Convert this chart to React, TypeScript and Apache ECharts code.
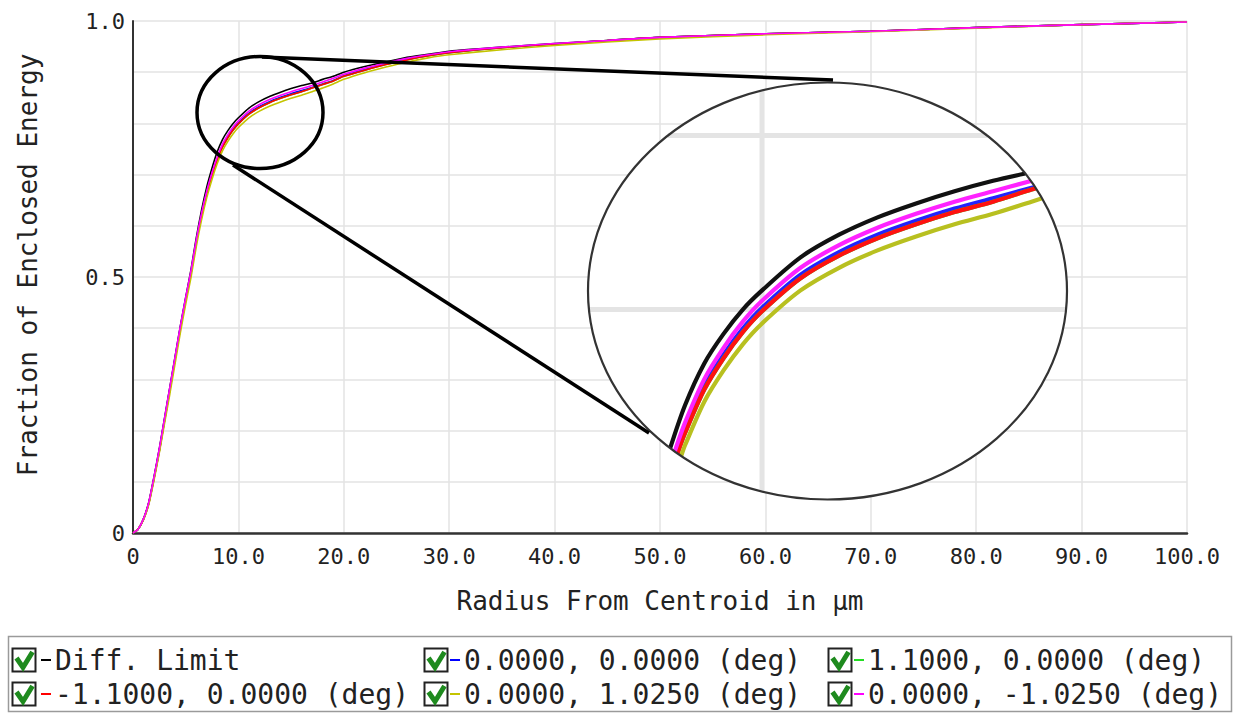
import React, { useEffect, useRef } from "react";
import * as echarts from "echarts";

// ---------------- data ----------------
const RADIUS = [0, 0.5, 1, 1.5, 2, 2.5, 3, 3.5, 4, 4.5, 5, 5.5, 6, 6.5, 7, 7.5, 8, 8.5, 9, 9.5, 10,
  11, 12, 13, 14, 15, 16, 17, 18, 19, 20, 22, 24, 26, 28, 30, 35, 40, 45, 50, 60, 70, 80, 90, 100];

const DIFF_LIMIT = [0, 0.008, 0.028, 0.060, 0.110, 0.165, 0.225, 0.285, 0.345, 0.405, 0.460, 0.514, 0.576, 0.630, 0.676, 0.713, 0.745, 0.769, 0.786, 0.800, 0.811,
  0.830, 0.843, 0.853, 0.861, 0.868, 0.874, 0.879, 0.886, 0.892, 0.900, 0.911, 0.920, 0.929, 0.935, 0.941, 0.949, 0.956, 0.962, 0.968, 0.975, 0.980, 0.987, 0.993, 0.998];
const FIELD_0_0 = [0, 0.008, 0.027, 0.059, 0.108, 0.162, 0.222, 0.282, 0.342, 0.402, 0.457, 0.509, 0.569, 0.621, 0.665, 0.701, 0.731, 0.756, 0.774, 0.789, 0.801,
  0.820, 0.833, 0.843, 0.851, 0.858, 0.864, 0.870, 0.877, 0.884, 0.893, 0.905, 0.916, 0.925, 0.932, 0.938, 0.948, 0.955, 0.962, 0.968, 0.975, 0.980, 0.987, 0.993, 0.998];
const FIELD_P110_0 = [0, 0.008, 0.027, 0.058, 0.107, 0.160, 0.220, 0.280, 0.340, 0.400, 0.455, 0.507, 0.567, 0.619, 0.663, 0.699, 0.729, 0.754, 0.772, 0.787, 0.799,
  0.818, 0.831, 0.841, 0.849, 0.856, 0.862, 0.869, 0.876, 0.883, 0.892, 0.904, 0.915, 0.924, 0.932, 0.938, 0.948, 0.955, 0.962, 0.968, 0.975, 0.980, 0.987, 0.993, 0.998];
const FIELD_M110_0 = [0, 0.008, 0.027, 0.058, 0.107, 0.160, 0.220, 0.280, 0.340, 0.400, 0.455, 0.507, 0.567, 0.619, 0.663, 0.699, 0.729, 0.754, 0.772, 0.787, 0.799,
  0.818, 0.831, 0.841, 0.849, 0.856, 0.862, 0.869, 0.876, 0.883, 0.892, 0.904, 0.915, 0.924, 0.932, 0.938, 0.948, 0.955, 0.962, 0.968, 0.975, 0.980, 0.987, 0.993, 0.998];
const FIELD_0_P1025 = [0, 0.008, 0.026, 0.056, 0.104, 0.157, 0.215, 0.272, 0.332, 0.392, 0.447, 0.499, 0.559, 0.611, 0.655, 0.691, 0.722, 0.747, 0.765, 0.780, 0.792,
  0.811, 0.824, 0.834, 0.842, 0.849, 0.855, 0.862, 0.869, 0.877, 0.886, 0.899, 0.910, 0.920, 0.928, 0.934, 0.944, 0.952, 0.959, 0.965, 0.973, 0.979, 0.986, 0.993, 0.998];
const FIELD_0_M1025 = [0, 0.008, 0.028, 0.060, 0.110, 0.165, 0.225, 0.285, 0.345, 0.405, 0.460, 0.512, 0.572, 0.624, 0.668, 0.704, 0.735, 0.760, 0.778, 0.793, 0.805,
  0.824, 0.837, 0.847, 0.855, 0.862, 0.868, 0.874, 0.881, 0.888, 0.896, 0.908, 0.918, 0.927, 0.934, 0.940, 0.949, 0.956, 0.962, 0.968, 0.975, 0.980, 0.987, 0.993, 0.998];

const SERIES_NAMES = [
  "Diff. Limit",
  "0.0000, 0.0000 (deg)",
  "1.1000, 0.0000 (deg)",
  "-1.1000, 0.0000 (deg)",
  "0.0000, 1.0250 (deg)",
  "0.0000, -1.0250 (deg)",
];
const SERIES_VALUES = [DIFF_LIMIT, FIELD_0_0, FIELD_P110_0, FIELD_M110_0, FIELD_0_P1025, FIELD_0_M1025];

const X_TICK_LABELS = ["0", "10.0", "20.0", "30.0", "40.0", "50.0", "60.0", "70.0", "80.0", "90.0", "100.0"];
const Y_TICK_VALUES = [0, 0.5, 1];
const Y_TICK_LABELS = ["0", "0.5", "1.0"];

const X_TITLE = "Radius From Centroid in µm";
const Y_TITLE = "Fraction of Enclosed Energy";

// magnified view: data window shown inside the big ellipse
const INSET_X_RANGE = [5.48, 17.92];
const INSET_Y_RANGE = [0.6908, 0.9305];
const INSET_GRID_X = [10];
const INSET_GRID_Y = [0.8, 0.9];

// ---------------- styles / layout ----------------
const COLORS = ["#000000", "#0000ff", "#22dd22", "#ff0000", "#c4c400", "#ff00ff"];
const INSET_COLORS = ["#111111", "#2222ff", "#22dd22", "#ff1111", "#b8c020", "#ff22ff"];
const MONO = '"DejaVu Sans Mono", monospace';
const BIG = { cx: 827.5, cy: 291, rx: 239.5, ry: 208.5 };
const SMALL = { cx: 260, cy: 112.5, rx: 63, ry: 56 };

function inEll(p: number[]) {
  const dx = (p[0] - BIG.cx) / BIG.rx;
  const dy = (p[1] - BIG.cy) / BIG.ry;
  return dx * dx + dy * dy <= 1;
}
function edgePoint(a: number[], b: number[]) {
  // a inside, b outside
  let lo = 0, hi = 1;
  for (let k = 0; k < 30; k++) {
    const m = (lo + hi) / 2;
    const p = [a[0] + (b[0] - a[0]) * m, a[1] + (b[1] - a[1]) * m];
    if (inEll(p)) lo = m; else hi = m;
  }
  return [a[0] + (b[0] - a[0]) * lo, a[1] + (b[1] - a[1]) * lo];
}
function clipToEllipse(pts: number[][]) {
  const segs: number[][][] = [];
  let cur: number[][] = [];
  for (let i = 0; i < pts.length; i++) {
    const p = pts[i];
    const pin = inEll(p);
    if (i > 0) {
      const q = pts[i - 1];
      const qin = inEll(q);
      if (qin && !pin) {
        cur.push(edgePoint(q, p));
        if (cur.length > 1) segs.push(cur);
        cur = [];
      } else if (!qin && pin) {
        cur = [edgePoint(p, q)];
      }
    }
    if (pin) cur.push(p);
  }
  if (cur.length > 1) segs.push(cur);
  return segs;
}

function curveRenderer(values: number[], color: string) {
  return (params: any, api: any) => {
    const pts = RADIUS.map((x, i) => api.coord([x, values[i]]));
    const segs = clipToEllipse(pts);
    return {
      type: "group",
      children: segs.map((seg) => ({
        type: "polyline",
        shape: { points: seg, smooth: 0.3 },
        style: { stroke: color, lineWidth: 4.2, fill: null, lineJoin: "round" },
      })),
    };
  };
}

function gridRenderer(params: any, api: any) {
  const children: any[] = [];
  INSET_GRID_X.forEach((gx) => {
    const px = api.coord([gx, INSET_Y_RANGE[0]])[0];
    const t = (px - BIG.cx) / BIG.rx;
    if (Math.abs(t) < 1) {
      const h = BIG.ry * Math.sqrt(1 - t * t);
      children.push({ type: "line", shape: { x1: px, y1: BIG.cy - h, x2: px, y2: BIG.cy + h }, style: { stroke: "#e4e4e4", lineWidth: 5 } });
    }
  });
  INSET_GRID_Y.forEach((gy) => {
    const py = api.coord([INSET_X_RANGE[0], gy])[1];
    const t = (py - BIG.cy) / BIG.ry;
    if (Math.abs(t) < 1) {
      const w = BIG.rx * Math.sqrt(1 - t * t);
      children.push({ type: "line", shape: { x1: BIG.cx - w, y1: py, x2: BIG.cx + w, y2: py }, style: { stroke: "#e4e4e4", lineWidth: 5 } });
    }
  });
  return { type: "group", children };
}

function legendGraphics() {
  const els: any[] = [];
  els.push({
    type: "rect", z: 20,
    shape: { x: 8.5, y: 636.5, width: 1223, height: 75 },
    style: { fill: "#fff", stroke: "#9a9a9a", lineWidth: 1.5 },
  });
  const colX = [12, 424, 828];
  const textX = [55, 464, 868];
  const rowY = [660, 694];
  SERIES_NAMES.forEach((name, i) => {
    const col = i % 3;
    const x0 = colX[col];
    const tx = textX[col];
    const yc = rowY[Math.floor(i / 3)];
    els.push({
      type: "rect", z: 21,
      shape: { x: x0 + 0.5, y: yc - 11.5, width: 23, height: 23 },
      style: { fill: "#fff", stroke: "#222", lineWidth: 2 },
    });
    els.push({
      type: "polyline", z: 22,
      shape: { points: [[x0 + 4.5, yc - 2], [x0 + 11, yc + 7.5], [x0 + 20.5, yc - 8]] },
      style: { stroke: "#1e8a1e", lineWidth: 5, fill: null, lineJoin: "miter" },
    });
    els.push({
      type: "line", z: 22,
      shape: { x1: tx - 14, y1: yc, x2: tx - 4, y2: yc },
      style: { stroke: COLORS[i], lineWidth: 2 },
    });
    els.push({
      type: "text", z: 22, x: tx, y: yc,
      style: {
        text: name, font: `28px ${MONO}`, fill: "#222",
        align: "left", verticalAlign: "middle", textAlign: "left", textVerticalAlign: "middle",
      },
    });
  });
  return els;
}

export default function App() {
  const ref = useRef<HTMLDivElement>(null);
  useEffect(() => {
    if (!ref.current) return;
    const chart = echarts.init(ref.current, undefined, { renderer: "svg" });

    const mainSeries = SERIES_VALUES.map((vals, i) => ({
      type: "line",
      name: SERIES_NAMES[i],
      xAxisIndex: 0,
      yAxisIndex: 0,
      data: RADIUS.map((x, j) => [x, vals[j]]),
      showSymbol: false,
      smooth: 0.2,
      lineStyle: { color: COLORS[i], width: 1.6 },
      itemStyle: { color: COLORS[i] },
      z: 2,
      silent: true,
    }));

    const insetSeries = SERIES_VALUES.map((vals, i) => ({
      type: "custom",
      name: "inset " + SERIES_NAMES[i],
      xAxisIndex: 1,
      yAxisIndex: 1,
      data: [[10, 0.8]],
      renderItem: curveRenderer(vals, INSET_COLORS[i]),
      z: 7,
      clip: false,
      silent: true,
    }));

    const option: any = {
      animation: false,
      backgroundColor: "#ffffff",
      grid: [
        { left: 133, top: 21, width: 1054, height: 512, containLabel: false },
        { left: BIG.cx - BIG.rx, top: BIG.cy - BIG.ry, width: BIG.rx * 2, height: BIG.ry * 2, containLabel: false },
      ],
      xAxis: [
        {
          type: "value", gridIndex: 0, min: 0, max: 100, interval: 10,
          axisLine: { show: true, lineStyle: { color: "#333", width: 2.5 } },
          axisTick: { show: false },
          splitLine: { show: true, lineStyle: { color: "#e3e3e3", width: 1.5 } },
          axisLabel: {
            margin: 12, fontSize: 22, fontFamily: MONO, color: "#222",
            formatter: (v: number) => X_TICK_LABELS[Math.round(v / 10)] ?? "",
          },
        },
        { type: "value", gridIndex: 1, min: INSET_X_RANGE[0], max: INSET_X_RANGE[1], show: false },
      ],
      yAxis: [
        {
          type: "value", gridIndex: 0, min: 0, max: 1, interval: 0.1,
          axisLine: { show: true, lineStyle: { color: "#333", width: 2 } },
          axisTick: { show: false },
          splitLine: { show: true, lineStyle: { color: "#e3e3e3", width: 1.5 } },
          axisLabel: {
            margin: 8, fontSize: 22, fontFamily: MONO, color: "#222",
            formatter: (v: number) => {
              const k = Y_TICK_VALUES.findIndex((t) => Math.abs(t - v) < 1e-6);
              return k >= 0 ? Y_TICK_LABELS[k] : "";
            },
          },
        },
        { type: "value", gridIndex: 1, min: INSET_Y_RANGE[0], max: INSET_Y_RANGE[1], show: false },
      ],
      series: [
        ...mainSeries,
        {
          type: "custom", name: "inset grid", xAxisIndex: 1, yAxisIndex: 1,
          data: [[10, 0.8]], renderItem: gridRenderer, z: 6, clip: false, silent: true,
        },
        ...insetSeries,
      ],
      graphic: [
        {
          type: "text", z: 10, x: 660, y: 601,
          style: {
            text: X_TITLE, font: `26px ${MONO}`, fill: "#222",
            align: "center", verticalAlign: "middle", textAlign: "center", textVerticalAlign: "middle",
          },
        },
        {
          type: "text", z: 10, x: 28, y: 265, rotation: Math.PI / 2,
          style: {
            text: Y_TITLE, font: `26px ${MONO}`, fill: "#222",
            align: "center", verticalAlign: "middle", textAlign: "center", textVerticalAlign: "middle",
          },
        },
        {
          type: "ellipse", z: 5,
          shape: { cx: BIG.cx, cy: BIG.cy, rx: BIG.rx, ry: BIG.ry },
          style: { fill: "#ffffff", stroke: null },
        },
        {
          type: "ellipse", z: 9,
          shape: { cx: BIG.cx, cy: BIG.cy, rx: BIG.rx, ry: BIG.ry },
          style: { fill: null, stroke: "#333333", lineWidth: 2.2 },
        },
        {
          type: "ellipse", z: 9,
          shape: { cx: SMALL.cx, cy: SMALL.cy, rx: SMALL.rx, ry: SMALL.ry },
          style: { fill: null, stroke: "#000000", lineWidth: 3.5 },
        },
        {
          type: "line", z: 9,
          shape: { x1: 262, y1: 57, x2: 833, y2: 80 },
          style: { stroke: "#000000", lineWidth: 3.5 },
        },
        {
          type: "line", z: 9,
          shape: { x1: 233, y1: 165, x2: 649, y2: 433 },
          style: { stroke: "#000000", lineWidth: 3.5 },
        },
        ...legendGraphics(),
      ],
    };
    chart.setOption(option);
    return () => chart.dispose();
  }, []);

  return (
    <div
      ref={ref}
      style={{ position: "absolute", left: 0, top: 0, width: 1238, height: 717, background: "#fff" }}
    />
  );
}
